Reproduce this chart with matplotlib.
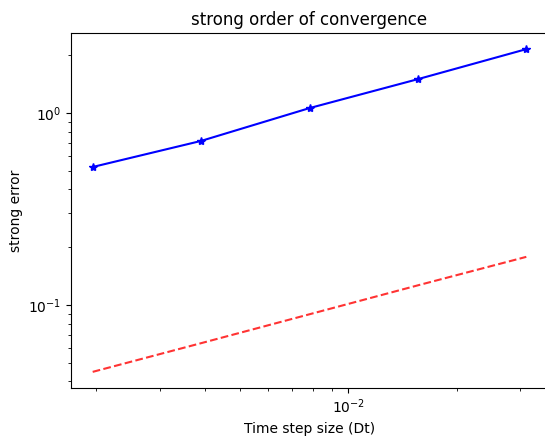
import matplotlib
matplotlib.use("Agg")
import matplotlib.pyplot as plt
import numpy as np

dt = [2**-9, 2**-8, 2**-7, 2**-6, 2**-5]
strong_error = [0.523, 0.715, 1.06, 1.50, 2.15]
ref_line = [0.0448, 0.0632, 0.0894, 0.1265, 0.178]

W, H = 545, 438
fig = plt.figure(figsize=(W/100, H/100), dpi=100)
ax = fig.add_axes([71/W, 1-388/H, 477/W, 355/H])
ax.loglog(dt, strong_error, 'b*-')
ax.loglog(dt, ref_line, 'r--', alpha=0.8)
ax.set_title('strong order of convergence')
ax.set_xlabel('Time step size (Dt)')
ax.set_ylabel('strong error')
fig.savefig('out.png', dpi=100)
